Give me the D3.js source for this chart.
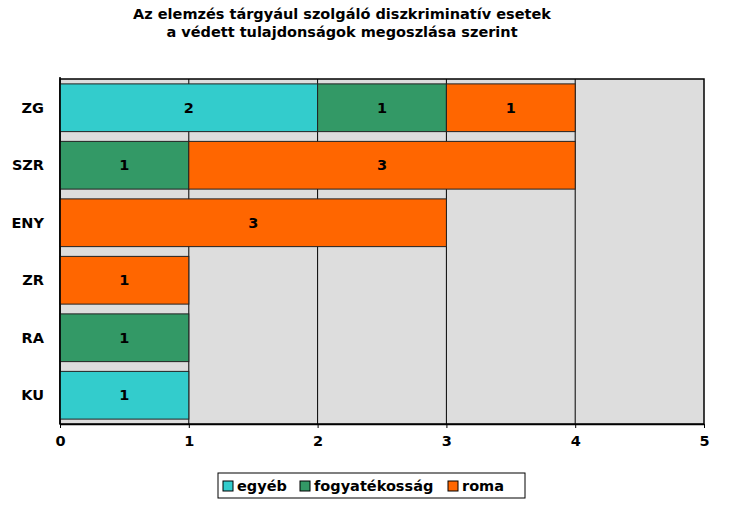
<!DOCTYPE html>
<html>
<head>
<meta charset="utf-8">
<script src="https://cdn.jsdelivr.net/npm/d3@7"></script>
<style>
  body { margin: 0; background: #fff; }
  text { font-family: "DejaVu Sans", Verdana, sans-serif; font-weight: bold; }
</style>
</head>
<body>
<div id="chart-area"></div>
<script>
var w = 737, h = 514;

// data
const regions = ["ZG", "SZR", "ENY", "ZR", "RA", "KU"];
const series = ["egyéb", "fogyatékosság", "roma"];
const egyeb = [2, 0, 0, 0, 0, 1];
const fogyatekossag = [1, 1, 0, 0, 1, 0];
const roma = [1, 3, 3, 1, 0, 0];
const xTicks = [0, 1, 2, 3, 4, 5];
const colors = ["#33CCCC", "#339966", "#FF6600"];

const margin = {top: 79, right: 33, bottom: 90, left: 60};
const width = w - margin.left - margin.right;
const height = h - margin.top - margin.bottom;

var svg = d3.select("#chart-area").append("svg")
    .attr("width", w).attr("height", h);

// title
var title = svg.append("text")
    .attr("text-anchor", "middle")
    .style("font-size", "14.5px");
title.append("tspan").attr("x", 342).attr("y", 19).text("Az elemzés tárgyául szolgáló diszkriminatív esetek");
title.append("tspan").attr("x", 342).attr("y", 37).text("a védett tulajdonságok megoszlása szerint");

const g = svg.append("g")
    .attr("transform", `translate(${margin.left},${margin.top})`);

var x = d3.scaleLinear().domain([0, 5]).range([0, width]);
var y = d3.scaleBand().domain(regions).range([0, height]).paddingInner(0.17).paddingOuter(0.085);

// background
g.append("rect").attr("width", width).attr("height", height)
    .attr("fill", "#DDDDDD").attr("stroke", "#000").attr("stroke-width", 1.5);

// grid
g.selectAll(".grid").data(xTicks.slice(1, -1)).enter().append("line")
    .attr("x1", d => x(d)).attr("x2", d => x(d))
    .attr("y1", 0).attr("y2", height)
    .attr("stroke", "#000").attr("stroke-width", 1);

// stack
const rows = regions.map((r, i) => ({region: r, "egyéb": egyeb[i], "fogyatékosság": fogyatekossag[i], "roma": roma[i]}));
const stacked = d3.stack().keys(series)(rows);

stacked.forEach(function(layer, si) {
    layer.forEach(function(d) {
        if (d[1] - d[0] <= 0) return;
        g.append("rect")
            .attr("x", x(d[0]))
            .attr("y", y(d.data.region))
            .attr("width", x(d[1]) - x(d[0]))
            .attr("height", y.bandwidth())
            .attr("fill", colors[si])
            .attr("stroke", "#222")
            .attr("stroke-width", 1);
        g.append("text")
            .attr("x", (x(d[0]) + x(d[1])) / 2)
            .attr("y", y(d.data.region) + y.bandwidth() / 2)
            .attr("dy", "0.36em")
            .attr("text-anchor", "middle")
            .style("font-size", "14.5px")
            .text(d[1] - d[0]);
    });
});

// left axis line
g.append("line").attr("x1", 0).attr("x2", 0).attr("y1", -2).attr("y2", height)
    .attr("stroke", "#000").attr("stroke-width", 1.5);

// category labels
g.selectAll(".cat").data(regions).enter().append("text")
    .attr("x", -16)
    .attr("y", d => y(d) + y.bandwidth() / 2)
    .attr("dy", "0.36em")
    .attr("text-anchor", "end")
    .style("font-size", "14.5px")
    .text(d => d);

// x axis
var xAxis = g.append("g")
    .attr("transform", `translate(0,${height})`)
    .call(d3.axisBottom(x).tickValues(xTicks).tickSize(4).tickSizeOuter(0).tickFormat(d3.format("d")));
xAxis.select(".domain").attr("stroke-width", 1.5);
xAxis.selectAll("text").style("font-size", "14.5px").attr("fill", "#000").attr("y", 12)
    .style("font-family", "DejaVu Sans").style("font-weight", "bold");

// legend
var lg = svg.append("g").attr("transform", "translate(218,473)");
lg.append("rect").attr("width", 307).attr("height", 25)
    .attr("fill", "#fff").attr("stroke", "#000").attr("stroke-width", 1);
var lx = [5, 82, 230];
series.forEach(function(s, i) {
    lg.append("rect").attr("x", lx[i]).attr("y", 8).attr("width", 10).attr("height", 10)
        .attr("fill", colors[i]).attr("stroke", "#000").attr("stroke-width", 1);
    lg.append("text").attr("x", lx[i] + 14).attr("y", 13).attr("dy", "0.36em")
        .style("font-size", "14.5px").text(s);
});
</script>
</body>
</html>
